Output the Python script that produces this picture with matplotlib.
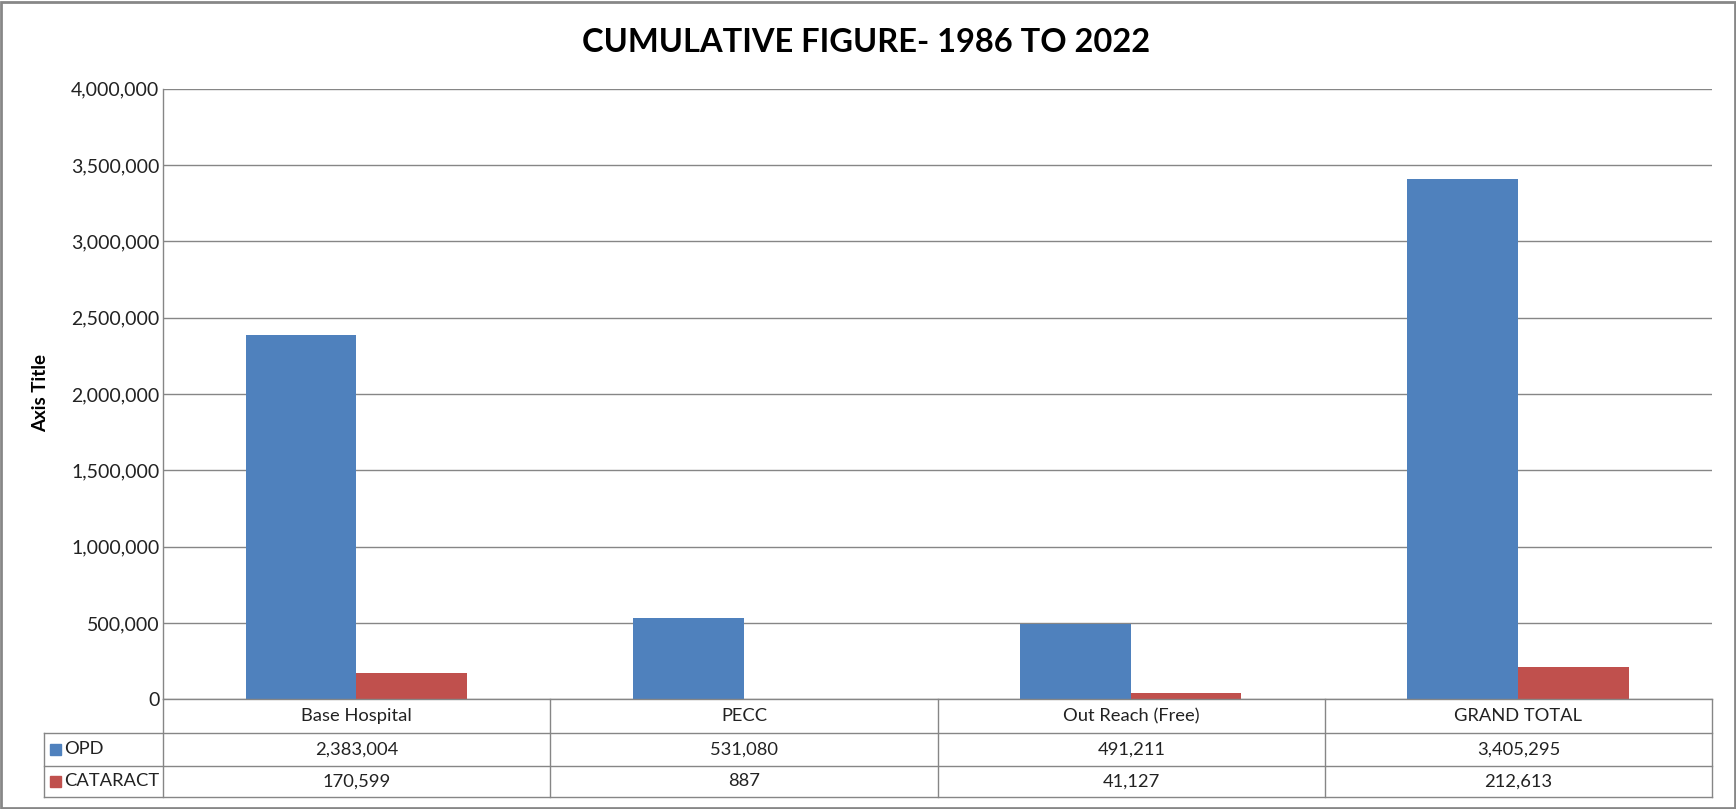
import matplotlib
matplotlib.use("Agg")
import matplotlib.pyplot as plt
from matplotlib.patches import Rectangle
from matplotlib.lines import Line2D
from matplotlib.ticker import FuncFormatter

plt.rcParams['font.family'] = ['Lato', 'DejaVu Sans']

# ---- data ----
categories = ["Base Hospital", "PECC", "Out Reach (Free)", "GRAND TOTAL"]
series_names = ["OPD", "CATARACT"]
opd = [2383004, 531080, 491211, 3405295]
cataract = [170599, 887, 41127, 212613]
y_ticks = [0, 500000, 1000000, 1500000, 2000000, 2500000, 3000000, 3500000, 4000000]
title = "CUMULATIVE FIGURE- 1986 TO 2022"
y_title = "Axis Title"

colors = ["#4F81BD", "#C0504D"]
grid_c = "#868686"
W, H = 1568.0, 731.0


def fx(x):
    return x / W


def fy(y):
    return 1 - y / H


fig = plt.figure(figsize=(17.36, 8.09), dpi=100)
fig.patch.set_facecolor("white")

# outer border
fig.add_artist(Rectangle((0.0008, 0.001), 0.9984, 0.997, transform=fig.transFigure,
                         fill=False, edgecolor="#878787", lw=2))

left, right, top, bottom = 147, 1546, 80, 632
ax = fig.add_axes([fx(left), fy(bottom), fx(right) - fx(left), fy(top) - fy(bottom)])

n = len(categories)
xs = list(range(n))
bw = 1 / 3.5
ax.bar([x - bw / 2 for x in xs], opd, width=bw, color=colors[0], zorder=3)
ax.bar([x + bw / 2 for x in xs], cataract, width=bw, color=colors[1], zorder=3)
ax.set_xlim(-0.5, n - 0.5)
ax.set_ylim(0, 4000000)
ax.set_yticks(y_ticks)
ax.yaxis.set_major_formatter(FuncFormatter(lambda v, p: f"{int(v):,}"))
ax.tick_params(axis='y', length=0, pad=2.5, labelsize=14, labelcolor="#222222")
ax.set_xticks([])
ax.grid(axis='y', color=grid_c, lw=1, zorder=0)
for s in ["top", "right", "bottom"]:
    ax.spines[s].set_visible(False)
ax.spines["left"].set_color(grid_c)
ax.spines["left"].set_linewidth(1)

fig.text(fx(37), fy(355), y_title, rotation=90, fontsize=13.5, fontweight="bold",
         ha="center", va="center")

# title
fig.text(fx(782), fy(38), title, fontsize=23.5, fontweight="bold", ha="center", va="center")

# data table
col_edges = [147, 497, 847, 1197, 1546]
row_edges = [632, 662, 692, 720]
tline = dict(color=grid_c, lw=1)
fig.add_artist(Line2D([fx(147), fx(1546)], [fy(632), fy(632)], transform=fig.transFigure, **tline))
for y in row_edges[1:]:
    fig.add_artist(Line2D([fx(40), fx(1546)], [fy(y), fy(y)], transform=fig.transFigure, **tline))
for x in col_edges:
    fig.add_artist(Line2D([fx(x), fx(x)], [fy(632), fy(720)], transform=fig.transFigure, **tline))
fig.add_artist(Line2D([fx(40), fx(40)], [fy(662), fy(720)], transform=fig.transFigure, **tline))

tfs = 13.2
for i, c in enumerate(categories):
    cx = (col_edges[i] + col_edges[i + 1]) / 2
    fig.text(fx(cx), fy(647), c, fontsize=tfs, ha="center", va="center", color="#222222")
    fig.text(fx(cx), fy(677), f"{opd[i]:,}", fontsize=tfs, ha="center", va="center", color="#222222")
    fig.text(fx(cx), fy(706), f"{cataract[i]:,}", fontsize=tfs, ha="center", va="center", color="#222222")

for j, (name, yc) in enumerate(zip(series_names, [677, 706])):
    fig.add_artist(Rectangle((fx(45), fy(yc + 5)), fx(10), fy(yc - 5) - fy(yc + 5),
                             transform=fig.transFigure, color=colors[j]))
    fig.text(fx(58), fy(yc), name, fontsize=tfs, ha="left", va="center", color="#222222")

fig.savefig("out.png", dpi=100)
